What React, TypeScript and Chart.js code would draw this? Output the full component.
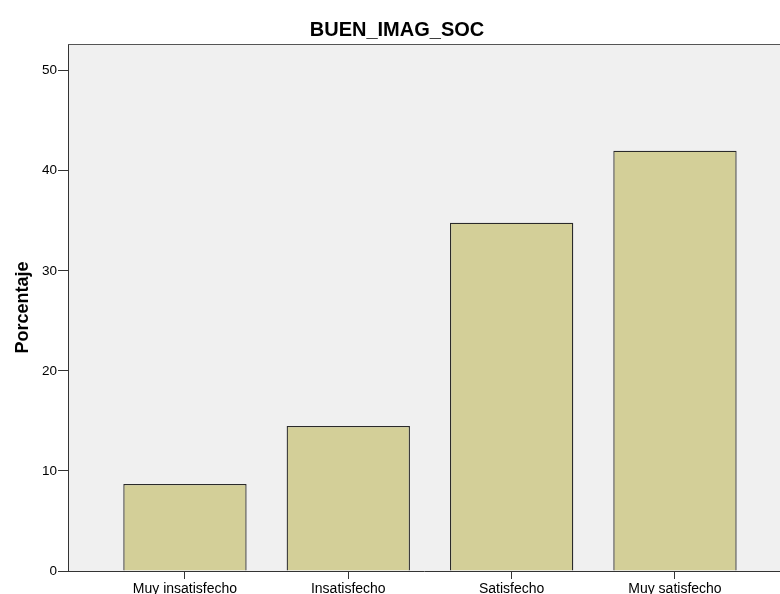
import React, { useEffect, useRef } from "react";
import { Chart, registerables } from "chart.js";

Chart.register(...registerables);

const chartTitle = "BUEN_IMAG_SOC";
const yAxisTitle = "Porcentaje";
const categories = ["Muy insatisfecho", "Insatisfecho", "Satisfecho", "Muy satisfecho"];
const percentages = [8.7, 14.5, 34.8, 42.0];
const yTickValues = [0, 10, 20, 30, 40, 50];

const plotBackground = {
  id: "plotBackground",
  beforeDraw(chart: any) {
    const { ctx, chartArea } = chart;
    ctx.save();
    ctx.fillStyle = "#f0f0f0";
    ctx.fillRect(chartArea.left, chartArea.top, chartArea.right - chartArea.left, chartArea.bottom - chartArea.top);
    ctx.restore();
  },
  afterDraw(chart: any) {
    const { ctx, chartArea } = chart;
    ctx.save();
    ctx.strokeStyle = "#555555";
    ctx.lineWidth = 1;
    ctx.beginPath();
    ctx.moveTo(chartArea.left, chartArea.top + 0.5);
    ctx.lineTo(chartArea.right, chartArea.top + 0.5);
    ctx.stroke();
    ctx.restore();
  },
};

export default function App() {
  const ref = useRef<HTMLCanvasElement | null>(null);
  useEffect(() => {
    if (!ref.current) return;
    const chart = new Chart(ref.current, {
      type: "bar",
      data: {
        datasets: [
          {
            data: categories.map((_, i) => ({ x: i, y: percentages[i] })),
            backgroundColor: "#d3cf98",
            borderColor: "#2a2a2a",
            borderWidth: 1.3,
            barPercentage: 0.755,
            categoryPercentage: 1,
          },
        ],
      },
      options: {
        animation: false,
        responsive: false,
        maintainAspectRatio: false,
        layout: { padding: { left: 14, right: 0, top: 0, bottom: 0 } },
        plugins: {
          legend: { display: false },
          tooltip: { enabled: false },
          title: {
            display: true,
            text: chartTitle,
            color: "#000000",
            font: { family: "'Liberation Sans', Arial, sans-serif", size: 20, weight: "bold", lineHeight: 1.2 },
            padding: { top: 18, bottom: 2 },
          },
        },
        scales: {
          x: {
            type: "linear",
            offset: false,
            min: -0.716,
            max: 3.643,
            afterBuildTicks(scale: any) {
              scale.ticks = categories.map((_, i) => ({ value: i }));
            },
            afterFit(scale: any) {
              scale.height = 23;
            },
            grid: { offset: false, drawOnChartArea: false, drawTicks: true, tickLength: 8, tickColor: "#333333" },
            border: { display: true, color: "#333333", width: 1 },
            ticks: {
              autoSkip: false,
              maxRotation: 0,
              padding: 2,
              color: "#000000",
              font: { family: "'Liberation Sans', Arial, sans-serif", size: 14 },
              callback: (v: any) => categories[Math.round(Number(v))] ?? "",
            },
          },
          y: {
            min: 0,
            max: 52.67,
            afterBuildTicks(scale: any) {
              scale.ticks = yTickValues.map((v) => ({ value: v }));
            },
            afterFit(scale: any) {
              scale.width = 54;
            },
            grid: { drawOnChartArea: false, drawTicks: true, tickLength: 10, tickColor: "#333333" },
            border: { display: true, color: "#333333", width: 1 },
            ticks: {
              padding: 1,
              color: "#000000",
              font: { family: "'Liberation Sans', Arial, sans-serif", size: 13.5 },
            },
            title: {
              display: true,
              text: yAxisTitle,
              color: "#000000",
              font: { family: "'Liberation Sans', Arial, sans-serif", size: 18, weight: "bold", lineHeight: 1 },
              padding: { top: 0, bottom: 0 },
            },
          },
        },
      },
      plugins: [plotBackground],
    });
    return () => chart.destroy();
  }, []);
  return (
    <div style={{ position: "fixed", left: 0, top: 0, width: 780, height: 594, background: "#ffffff" }}>
      <canvas ref={ref} width={780} height={594} style={{ display: "block", width: 780, height: 594 }} />
    </div>
  );
}
